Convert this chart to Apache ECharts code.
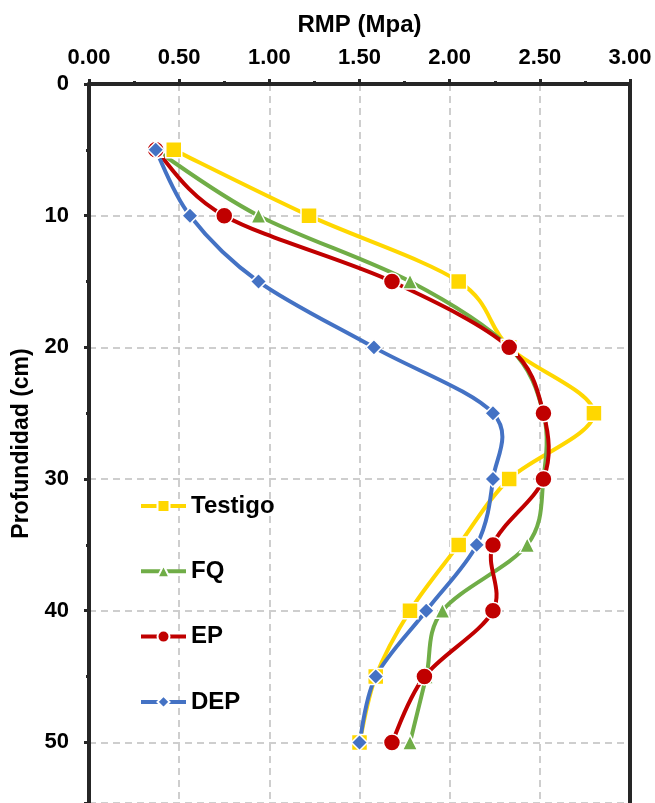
<!DOCTYPE html>
<html>
<head>
<meta charset="utf-8">
<script src="https://cdn.jsdelivr.net/npm/echarts@6/dist/echarts.min.js"></script>
<style>
  html, body { margin: 0; padding: 0; background: #fff; }
  #chart { width: 655px; height: 803px; }
</style>
</head>
<body>
<div id="chart"></div>
<script>
// profundidad (cm)
const depths = [5, 10, 15, 20, 25, 30, 35, 40, 45, 50];
// RMP (Mpa) por tratamiento
const testigo = [0.47, 1.22, 2.05, 2.33, 2.80, 2.33, 2.05, 1.78, 1.59, 1.50];
const fq      = [0.37, 0.94, 1.78, 2.33, 2.52, 2.52, 2.43, 1.96, 1.87, 1.78];
const ep      = [0.37, 0.75, 1.68, 2.33, 2.52, 2.52, 2.24, 2.24, 1.86, 1.68];
const dep     = [0.37, 0.56, 0.94, 1.58, 2.24, 2.24, 2.15, 1.87, 1.59, 1.50];

const myChart = echarts.init(document.getElementById('chart'));

const font = 'Liberation Sans, Arial, sans-serif';

// curva suavizada tipo Excel (catmull-rom en pixeles), dibujada con api.coord
function curva(vals, color) {
  return {
    type: 'custom',
    silent: true,
    data: vals.map((v, i) => [v, depths[i]]),
    renderItem: function (params, api) {
      if (params.dataIndex !== 0) return null;
      const p = vals.map((v, i) => api.coord([v, depths[i]]));
      const n = p.length;
      const kids = [];
      for (let i = 0; i < n - 1; i++) {
        const p0 = p[i > 0 ? i - 1 : i];
        const p1 = p[i];
        const p2 = p[i + 1];
        const p3 = p[i + 2 < n ? i + 2 : i + 1];
        kids.push({
          type: 'bezierCurve',
          shape: {
            x1: p1[0], y1: p1[1],
            cpx1: p1[0] + (p2[0] - p0[0]) / 6, cpy1: p1[1] + (p2[1] - p0[1]) / 6,
            cpx2: p2[0] - (p3[0] - p1[0]) / 6, cpy2: p2[1] - (p3[1] - p1[1]) / 6,
            x2: p2[0], y2: p2[1]
          },
          style: { fill: null, stroke: color, lineWidth: 4, lineCap: 'round' }
        });
      }
      return { type: 'group', children: kids };
    }
  };
}

// serie de linea: solo marcadores y leyenda (la curva la pone curva())
function serie(name, vals, color, symbol, size) {
  return {
    name: name,
    type: 'line',
    data: vals.map((v, i) => [v, depths[i]]),
    symbol: symbol,
    symbolSize: size,
    lineStyle: { color: color, width: 4, opacity: 0 },
    itemStyle: { color: color, borderColor: '#fff', borderWidth: 1.5 },
    emphasis: { disabled: true }
  };
}

const axisLine = { show: true, lineStyle: { color: '#262626', width: 4 } };
const tick = { show: true, length: 5, lineStyle: { color: '#262626', width: 3 } };
const minor = { show: true, splitNumber: 2, length: 3, lineStyle: { color: '#262626', width: 3 } };
const grid = { show: true, lineStyle: { color: '#bfbfbf', width: 1.5, type: [7, 5] } };

const opt = {
  animation: false,
  grid: {
    left: 89,
    right: 25,
    top: 84,
    bottom: 0
  },
  legend: {
    orient: 'vertical',
    left: 139,
    top: 494,
    padding: 0,
    itemWidth: 45,
    itemHeight: 15,
    itemGap: 41.3,
    lineStyle: { opacity: 1, width: 4 },
    textStyle: { fontFamily: font, fontWeight: 'bold', fontSize: 24, color: '#000', lineHeight: 24 },
    data: ['Testigo', 'FQ', 'EP', 'DEP']
  },
  xAxis: {
    type: 'value',
    position: 'top',
    min: 0,
    max: 3,
    interval: 0.5,
    name: 'RMP (Mpa)',
    nameLocation: 'middle',
    nameGap: 47,
    nameTextStyle: { fontFamily: font, fontWeight: 'bold', fontSize: 24, color: '#000' },
    axisLine: axisLine,
    axisTick: tick,
    minorTick: minor,
    axisLabel: {
      margin: 15,
      fontFamily: font, fontWeight: 'bold', fontSize: 22, color: '#000',
      formatter: v => v.toFixed(2)
    },
    splitLine: grid
  },
  yAxis: [
    {
      type: 'value',
      inverse: true,
      min: 0,
      max: 54.6,
      interval: 10,
      name: 'Profundidad (cm)',
      nameLocation: 'middle',
      nameGap: 48,
      nameTextStyle: { fontFamily: font, fontWeight: 'bold', fontSize: 23, color: '#000' },
      axisLine: axisLine,
      axisTick: tick,
      minorTick: minor,
      axisLabel: {
        margin: 20,
        fontFamily: font, fontWeight: 'bold', fontSize: 22, color: '#000',
        formatter: v => (v % 10 === 0 ? String(v) : '')
      },
      splitLine: grid
    },
    {
      // borde derecho del area
      type: 'value',
      position: 'right',
      inverse: true,
      min: 0,
      max: 54.6,
      axisLine: axisLine,
      axisTick: { show: false },
      axisLabel: { show: false },
      splitLine: { show: false }
    }
  ],
  series: [
    curva(testigo, '#FFD700'),
    serie('Testigo', testigo, '#FFD700', 'rect', 16),
    curva(fq, '#70AD47'),
    serie('FQ', fq, '#70AD47', 'triangle', 15),
    curva(ep, '#C00000'),
    serie('EP', ep, '#C00000', 'circle', 17),
    curva(dep, '#4472C4'),
    serie('DEP', dep, '#4472C4', 'diamond', 16)
  ]
};

myChart.setOption(opt);
</script>
</body>
</html>
